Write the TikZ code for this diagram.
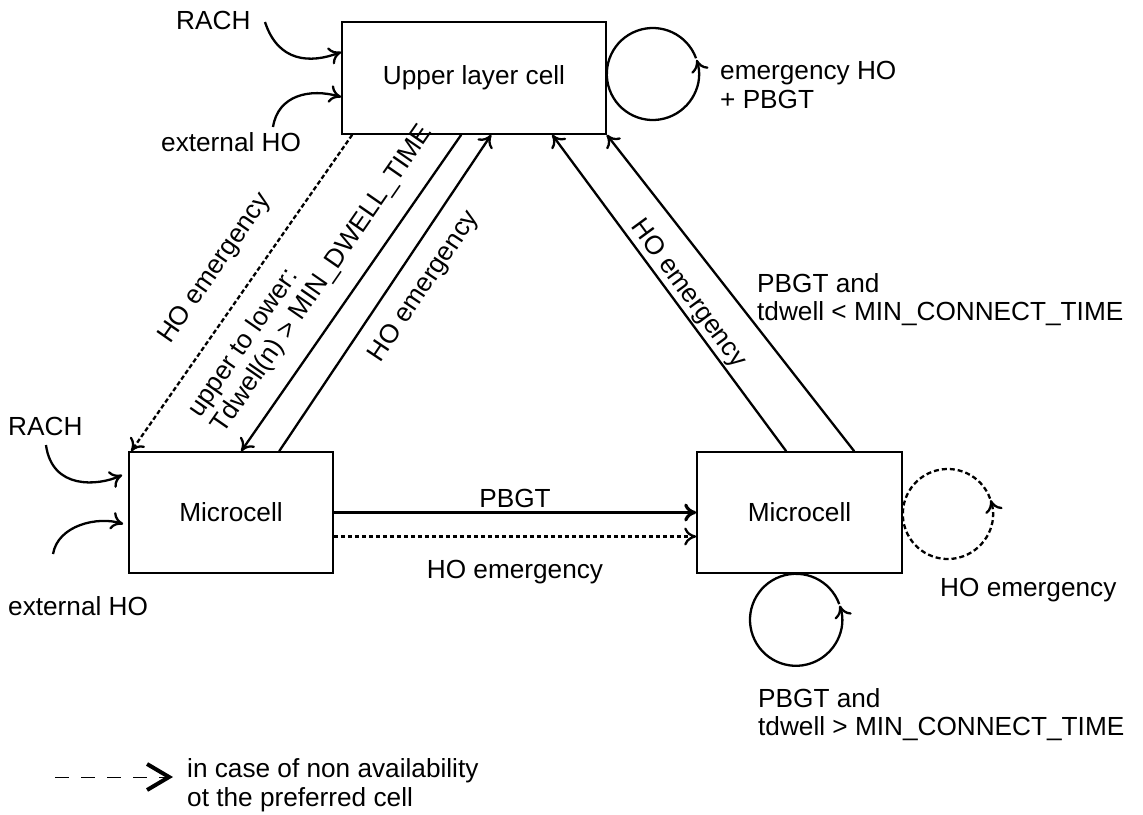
\documentclass[tikz,border=0pt]{standalone}
\usepackage{fontspec}
\setmainfont{Liberation Sans}
\usetikzlibrary{arrows.meta}
\begin{document}
\begin{tikzpicture}[x=1pt,y=-1pt,
  txt/.style={font=\fontsize{26.2}{28.5}\selectfont, inner sep=0pt},
  cell/.style={draw, line width=1.6pt, inner sep=0pt, font=\fontsize{26.2}{28.5}\selectfont},
  conn/.style={line width=2.3pt, -{To[length=12pt,width=18pt]}},
  loopc/.style={line width=2.3pt, -{To[length=12pt,width=18pt]}},
  dots/.style={dash pattern=on 4.5pt off 2.5pt},
  ]
\useasboundingbox (0,0) rectangle (1143,814);
% cells
\node[cell, minimum width=264pt, minimum height=112pt] (ulc) at (474,78) {Upper layer cell};
\node[cell, minimum width=204pt, minimum height=121pt] (mc1) at (231,512.5) {Microcell};
\node[cell, minimum width=205pt, minimum height=121pt] (mc2) at (799.5,512.5) {Microcell};
% incoming arrows
\node[txt, anchor=base west] (rach1) at (176,29) {RACH};
\node[txt, anchor=base west] (ext1) at (161,151) {external HO};
\node[txt, anchor=base west] (rach2) at (8,435) {RACH};
\node[txt, anchor=base west] (ext2) at (8,615) {external HO};
\coordinate (r1s) at (265,22);
\coordinate (e1s) at (273,127);
\coordinate (r2s) at (46,445);
\coordinate (e2s) at (53,554);
\draw[conn] (r1s) .. controls (278,62) and (310,64) .. ([yshift=26pt]ulc.west);
\draw[conn] (e1s) .. controls (278,95) and (310,88) .. ([yshift=-19pt]ulc.west);
\draw[conn] (r2s) .. controls (52,490) and (98,486) .. ([xshift=-6pt,yshift=37.5pt]mc1.west);
\draw[conn] (e2s) .. controls (58,525) and (98,516) .. ([xshift=-5pt,yshift=-11.5pt]mc1.west);
% loops
\coordinate (lp1) at ([xshift=46pt,yshift=4pt]ulc.east);
\coordinate (lp2) at ([xshift=45pt,yshift=-1.5pt]mc2.east);
\coordinate (lp3) at ([xshift=-3.5pt,yshift=-46pt]mc2.south);
\draw[loopc] ([shift={(20:46pt)}]lp1) arc[start angle=20, end angle=378, radius=46pt];
\draw[loopc, dash pattern=on 5pt off 3pt] ([shift={(20:45pt)}]lp2) arc[start angle=20, end angle=378, radius=45pt];
\draw[loopc] ([shift={(20:46pt)}]lp3) arc[start angle=20, end angle=378, radius=46pt];
% diagonal connectors
\draw[conn, dots] ([xshift=11pt]ulc.south west) -- ([xshift=3pt]mc1.north west);
\draw[conn] ([xshift=120pt]ulc.south west) -- ([xshift=113pt]mc1.north west);
\draw[conn] ([xshift=151pt]mc1.north west) -- ([xshift=150pt]ulc.south west);
\draw[conn] ([xshift=90pt]mc2.north west) -- ([xshift=211pt]ulc.south west);
\draw[conn] ([xshift=158pt]mc2.north west) -- (ulc.south east);
% horizontal connectors
\draw[conn, line width=3.2pt] (mc1.east) -- (mc2.west);
\draw[conn, dots] ([yshift=-24pt]mc1.east) -- ([yshift=-24pt]mc2.west);
% labels
\node[txt, anchor=base] (lpbgt) at (515,507) {PBGT};
\node[txt, anchor=base] (lhoh) at (515,578) {HO emergency};
\node[txt, anchor=base west, rotate=55.2] (ld1) at (170,345) {HO emergency};
\node[txt, anchor=base west, rotate=55.3] (ld2a) at (200.1,418.5) {upper to lower:};
\node[txt, anchor=base west, rotate=55.3] (ld2b) at (223.5,434.7) {Tdwell(n) > MIN\_DWELL\_TIME};
\node[txt, anchor=base west, rotate=56.3] (ld3) at (380.8,363.8) {HO emergency};
\node[txt, rotate=-53.7] (ld4) at (688,294) {HO emergency};
\node[txt, anchor=base west] (lr1) at (757,292) {PBGT and};
\node[txt, anchor=base west] (lr2) at (757,320.5) {tdwell < MIN\_CONNECT\_TIME};
\node[txt, anchor=base west] (ll1) at (720,79) {emergency HO};
\node[txt, anchor=base west] (ll2) at (720,108) {+ PBGT};
\node[txt, anchor=base west] (ll3) at (940,596) {HO emergency};
\node[txt, anchor=base west] (lb1) at (758,707) {PBGT and};
\node[txt, anchor=base west] (lb2) at (758,735) {tdwell > MIN\_CONNECT\_TIME};
% legend
\coordinate (lgs) at (55,777);
\coordinate (lge) at (173,777);
\draw[line width=1pt, dash pattern=on 14pt off 12pt, -{Straight Barb[length=22pt,width=26pt,line width=4pt]}] (lgs) -- (lge);
\node[txt, anchor=base west] (lg1) at (187,777) {in case of non availability};
\node[txt, anchor=base west] (lg2) at (187,806) {ot the preferred cell};
\end{tikzpicture}
\end{document}
